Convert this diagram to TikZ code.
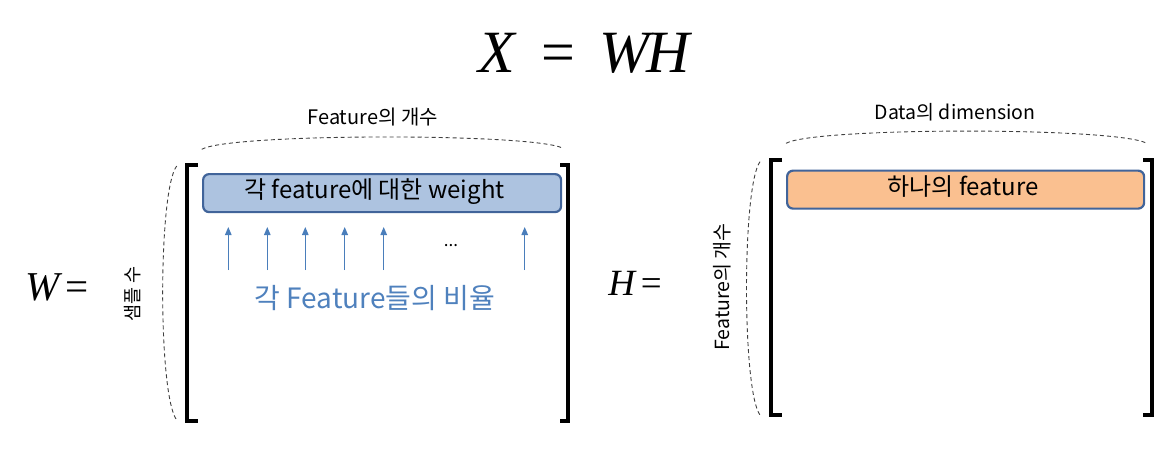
\documentclass[tikz,border=0pt]{standalone}
\usepackage{fontspec}
\setmainfont{Noto Sans CJK KR}
\newfontfamily\mathlike{Liberation Serif}
\usetikzlibrary{arrows.meta}
\definecolor{boxblue}{HTML}{ADC3E0}
\definecolor{edgeblue}{HTML}{41649A}
\definecolor{arrblue}{HTML}{4A7EBB}
\definecolor{txtblue}{HTML}{4F81BD}
\definecolor{boxorange}{HTML}{FAC090}
\definecolor{dashgray}{HTML}{404040}
\tikzset{
  bracket/.style={line width=3.5pt, line join=miter, black},
  rowbox/.style={draw=edgeblue, line width=2.2pt, rounded corners=6pt, inner sep=0pt, anchor=north west},
  dashcurve/.style={dashgray, line width=0.9pt, dash pattern=on 4pt off 3pt},
  upar/.style={arrblue, line width=1.1pt, -{Triangle[length=8pt,width=6.5pt]}},
  lbl/.style={font=\fontsize{20}{22}\selectfont, inner sep=0pt},
  eqn/.style={inner sep=0pt, font=\mathlike},
}
\begin{document}
\begin{tikzpicture}[x=1pt,y=-1pt]
\useasboundingbox (0,0) rectangle (1172,448);
% title
\node[eqn] (title) at (585.5,53) {\fontsize{60}{66}\selectfont \textit{X}\hspace{24pt}=\hspace{24pt}\textit{W\kern-3ptH}};
% W matrix
\node[eqn] (Wlbl) at (57,287) {\fontsize{41}{46}\selectfont \textit{W}\kern2pt=};
\draw[bracket] (198,165) -- (187,165) -- (187,421) -- (198,421);
\draw[bracket] (560,165) -- (568,165) -- (568,421) -- (560,421);
\node[rowbox, fill=boxblue, minimum width=358pt, minimum height=38pt] (wrow) at (202,173) {};
\node[inner sep=0pt, font=\fontsize{24}{27}\selectfont] (wrowtxt) at (374.5,191.5) {각 feature에 대한 weight};
\foreach \i/\xx in {1/228.3,2/267.3,3/305.3,4/344.7,5/383.7,6/524.7}{
  \coordinate (a\i) at (\xx,270);
  \coordinate (b\i) at (\xx,227);
  \draw[upar] (a\i) -- (b\i);
}
\node[inner sep=0pt, font=\fontsize{17}{19}\selectfont] (dots) at (451,246) {...};
\node[inner sep=0pt, text=txtblue, font=\fontsize{28}{32}\selectfont] (ratio) at (375,298) {각 Feature들의 비율};
\coordinate (wt1) at (201.7,149.3); \coordinate (wt2) at (563,148.3);
\draw[dashcurve] (wt1) .. controls (230,133) and (535,133) .. (wt2);
\node[lbl] (wtop) at (372.7,116.7) {Feature의 개수};
\coordinate (wl1) at (176.7,166); \coordinate (wl2) at (176.7,420);
\draw[dashcurve] (wl1) .. controls (158,190) and (158,396) .. (wl2);
\node[lbl, rotate=90, font=\fontsize{18.5}{20}\selectfont] (wside) at (133,294) {샘플 수};
% H matrix
\node[eqn] (Hlbl) at (635,283) {\fontsize{37}{42}\selectfont \textit{H}\kern4pt=};
\draw[bracket] (782,160) -- (771,160) -- (771,415) -- (782,415);
\draw[bracket] (1143,160) -- (1152,160) -- (1152,415) -- (1143,415);
\node[rowbox, fill=boxorange, minimum width=357pt, minimum height=38pt] (hrow) at (786,169.5) {};
\node[inner sep=0pt, font=\fontsize{24}{27}\selectfont] (hrowtxt) at (963,187) {하나의 feature};
\coordinate (ht1) at (786,143.3); \coordinate (ht2) at (1146.7,143.3);
\draw[dashcurve] (ht1) .. controls (815,127) and (1118,127) .. (ht2);
\node[lbl, font=\fontsize{19.5}{22}\selectfont] (htop) at (955,112.7) {Data의 dimension};
\coordinate (hl1) at (760,161.7); \coordinate (hl2) at (760,415);
\draw[dashcurve] (hl1) .. controls (742,186) and (742,391) .. (hl2);
\node[lbl, rotate=90, font=\fontsize{19.5}{22}\selectfont] (hside) at (722.5,287) {Feature의 개수};
\end{tikzpicture}
\end{document}
